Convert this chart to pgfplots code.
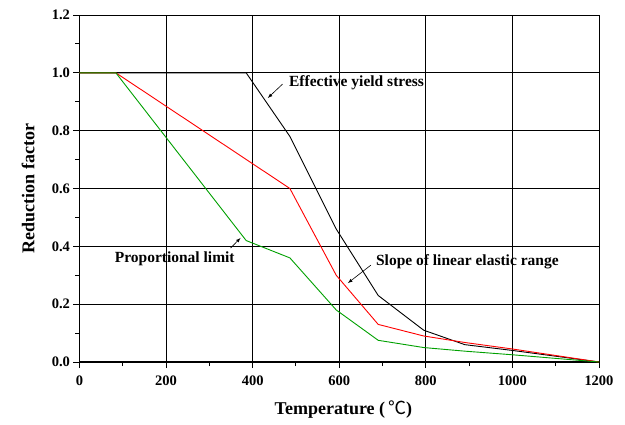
\documentclass[border=0pt]{standalone}
\usepackage{fontspec}
\setmainfont{Liberation Serif}
\newfontfamily\cjk{Noto Sans CJK SC}
\usepackage{pgfplots}
\pgfplotsset{compat=1.18}
\definecolor{lgreen}{RGB}{0,160,0}

\begin{document}
\begin{tikzpicture}
\useasboundingbox (-79.5pt,-62pt) rectangle (545.5pt,362pt);
\begin{axis}[
    at={(0,0)}, anchor=south west,
    scale only axis, width=519.5pt, height=347pt,
    xmin=0, xmax=1200, ymin=0, ymax=1.2,
    xtick={0,200,...,1200}, ytick={0,0.2,...,1.2},
    minor x tick num=1, minor y tick num=1,
    axis x line*=bottom, axis y line*=left,
    axis line style={black, line width=1.2pt},
    tick align=outside, major tick length=6pt, minor tick length=4pt,
    tick style={black, line width=1pt},
    grid=major, major grid style={black, line width=0.9pt},
    /pgf/number format/assume math mode=true,
    yticklabel style={/pgf/number format/.cd, fixed, fixed zerofill, precision=1},
    xticklabel style={yshift=-4pt, /pgf/number format/.cd, 1000 sep={}},
    tick label style={font=\fontsize{14.5}{16}\selectfont\bfseries},
    xlabel={Temperature (\,{\cjk\mdseries ℃})},
    ylabel={Reduction factor},
    every axis y label/.style={at={(axis description cs:-0.099,0.5)}, rotate=90, anchor=center,
        font=\fontsize{18}{20}\selectfont\bfseries},
    every axis x label/.style={at={(axis description cs:0.508,-0.138)}, anchor=center,
        font=\fontsize{18}{20}\selectfont\bfseries},
    clip=false,
]
% effective yield stress
\addplot[black, line width=0.9pt] coordinates {
    (0,1) (385,1) (486,0.78) (593,0.46) (690,0.23) (795,0.11)
    (890,0.06) (1000,0.04) (1100,0.02) (1200,0)
};
% slope of linear elastic range
\addplot[red, line width=0.9pt] coordinates {
    (0,1) (84,1) (486,0.6) (593,0.30) (690,0.13) (795,0.09)
    (890,0.0675) (1000,0.045) (1100,0.0225) (1200,0)
};
% proportional limit
\addplot[lgreen, line width=0.9pt] coordinates {
    (0,1) (84,1) (385,0.42) (486,0.36) (593,0.18) (690,0.075) (795,0.05)
    (890,0.0375) (1000,0.025) (1100,0.0125) (1200,0)
};
\draw[-latex, line width=0.6pt] (axis cs:469,0.961) -- (axis cs:435,0.913);
\node[anchor=west, font=\fontsize{15.5}{17}\selectfont\bfseries] at (axis cs:476,0.965) {Effective yield stress};
\draw[-latex, line width=0.6pt] (axis cs:349,0.394) -- (axis cs:372,0.429);
\node[font=\fontsize{15.5}{17}\selectfont\bfseries] at (axis cs:220,0.356) {Proportional limit};
\draw[-latex, line width=0.6pt] (axis cs:673,0.335) -- (axis cs:620,0.273);
\node[anchor=west, font=\fontsize{15.5}{17}\selectfont\bfseries] at (axis cs:677,0.346) {Slope of linear elastic range};
\end{axis}
\end{tikzpicture}
\end{document}
